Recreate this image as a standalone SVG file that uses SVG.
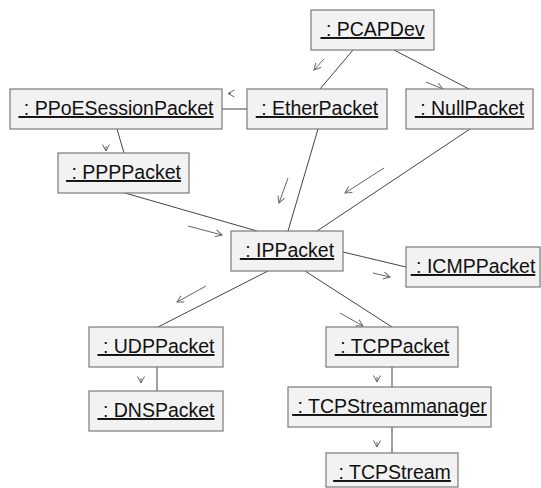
<svg xmlns="http://www.w3.org/2000/svg" width="541" height="488" viewBox="0 0 541 488">
<style>
.box{fill:#f2f2f2;stroke:#7a7a7a;stroke-width:1.2}
.lbl{font-family:"Liberation Sans",Arial,sans-serif;font-size:19.5px;fill:#111;text-anchor:middle;text-decoration:underline;white-space:pre}
.con line{stroke:#444;stroke-width:1}
.msg line{stroke:#666;stroke-width:1;marker-end:url(#ah)}
</style>
<defs>
<marker id="ah" markerUnits="userSpaceOnUse" markerWidth="10" markerHeight="10" refX="7" refY="4" orient="auto">
<path d="M0.5,0.5 L7,4 L0.5,7.5" fill="none" stroke="#666" stroke-width="1"/>
</marker>
</defs>
<rect width="541" height="488" fill="#fff"/>
<g id="connectors" class="con">
<line x1="353" y1="50" x2="320" y2="89"/>
<line x1="394" y1="50" x2="469" y2="89"/>
<line x1="222" y1="109" x2="247" y2="109"/>
<line x1="117" y1="129" x2="124" y2="153"/>
<line x1="125" y1="193" x2="257" y2="231"/>
<line x1="318" y1="129" x2="288" y2="231"/>
<line x1="470" y1="129" x2="317" y2="231"/>
<line x1="343" y1="252" x2="406" y2="267"/>
<line x1="268" y1="271" x2="158" y2="327"/>
<line x1="305" y1="271" x2="392" y2="327"/>
<line x1="157" y1="367" x2="157" y2="391"/>
<line x1="392" y1="366" x2="392" y2="387"/>
<line x1="392" y1="427" x2="392" y2="453"/>
</g>
<g id="messages" class="msg">
<line x1="324" y1="59" x2="314" y2="70"/>
<line x1="231" y1="93.5" x2="228" y2="93.5"/>
<line x1="426" y1="82" x2="443" y2="89"/>
<line x1="106" y1="146" x2="106" y2="151"/>
<line x1="288" y1="178" x2="279" y2="203"/>
<line x1="384" y1="168" x2="345" y2="193"/>
<line x1="188" y1="226" x2="222" y2="235"/>
<line x1="373" y1="273" x2="390" y2="277"/>
<line x1="206" y1="286" x2="177" y2="302"/>
<line x1="340" y1="313" x2="363" y2="326"/>
<line x1="141" y1="378" x2="141" y2="383"/>
<line x1="377" y1="377" x2="377" y2="382"/>
<line x1="377" y1="442" x2="377" y2="447"/>
</g>
<g id="PCAPDev"><rect class="box" x="311" y="10" width="123" height="40"/><text class="lbl" x="372.5" y="36"> : PCAPDev</text></g>
<g id="PPoESessionPacket"><rect class="box" x="10" y="89" width="212" height="40"/><text class="lbl" x="116" y="115"> : PPoESessionPacket</text></g>
<g id="EtherPacket"><rect class="box" x="247" y="89" width="140" height="40"/><text class="lbl" x="317" y="115"> : EtherPacket</text></g>
<g id="NullPacket"><rect class="box" x="406" y="89" width="127" height="40"/><text class="lbl" x="469.5" y="115"> : NullPacket</text></g>
<g id="PPPPacket"><rect class="box" x="58" y="153" width="131" height="40"/><text class="lbl" x="123.5" y="179"> : PPPPacket</text></g>
<g id="IPPacket"><rect class="box" x="231" y="231" width="112" height="40"/><text class="lbl" x="287" y="257"> : IPPacket</text></g>
<g id="ICMPPacket"><rect class="box" x="406" y="247" width="134" height="40"/><text class="lbl" x="473" y="273"> : ICMPPacket</text></g>
<g id="UDPPacket"><rect class="box" x="89" y="327" width="134" height="40"/><text class="lbl" x="156" y="353"> : UDPPacket</text></g>
<g id="TCPPacket"><rect class="box" x="326" y="327" width="132" height="40"/><text class="lbl" x="392" y="353"> : TCPPacket</text></g>
<g id="DNSPacket"><rect class="box" x="89" y="391" width="134" height="40"/><text class="lbl" x="156" y="417"> : DNSPacket</text></g>
<g id="TCPStreammanager"><rect class="box" x="288" y="387" width="203" height="40"/><text class="lbl" x="389.5" y="413"> : TCPStreammanager</text></g>
<g id="TCPStream"><rect class="box" x="326" y="453" width="132" height="34"/><text class="lbl" x="392" y="479"> : TCPStream</text></g>
</svg>
